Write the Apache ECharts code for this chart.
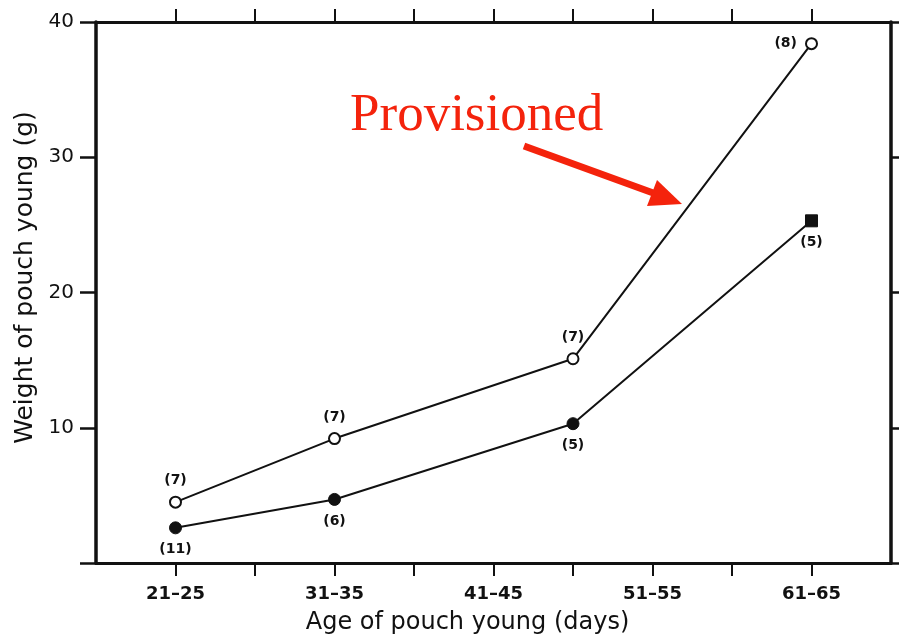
<!DOCTYPE html>
<html>
<head>
<meta charset="utf-8">
<script src="https://cdn.jsdelivr.net/npm/echarts@6/dist/echarts.min.js"></script>
<style>html,body{margin:0;padding:0;background:#fff}#c{width:899px;height:634px}</style>
</head>
<body>
<div id="c"></div>
<script>
// ---- data ----
var ageX = [23, 33, 48, 63];                     // age (days) of each sample group
var provisioned = [4.5, 9.2, 15.1, 38.4];        // open symbols
var provisionedN = ['(7)', '(7)', '(7)', '(8)'];
var unprovisioned = [2.6, 4.7, 10.3, 25.3];      // filled symbols
var unprovisionedN = ['(11)', '(6)', '(5)', '(5)'];
var tickAges = [23, 28, 33, 38, 43, 48, 53, 58, 63];
var labelAges = [23, 33, 43, 53, 63];
var labelTexts = ['21\u201325', '31\u201335', '41\u201345', '51\u201355', '61\u201365'];

var chart = echarts.init(document.getElementById('c'));
var font = 'DejaVu Sans';

function xAx(pos, showLabels) {
  var ax = {
    type: 'value', position: pos, min: 18, max: 68,
    axisLine: {show: true, onZero: false, lineStyle: {color: '#111', width: 3}},
    axisTick: {show: true, customValues: tickAges, length: 13, lineStyle: {color: '#111', width: 2}},
    axisLabel: {show: false},
    splitLine: {show: false}
  };
  if (showLabels) {
    ax.axisLabel = {show: true, customValues: labelAges, margin: 22,
      color: '#111', fontFamily: font, fontSize: 18, fontWeight: 'bold',
      formatter: function (v) { var i = labelAges.indexOf(v); return i >= 0 ? labelTexts[i] : ''; }};
  }
  return ax;
}
function yAx(pos, showLabels) {
  return {
    type: 'value', position: pos, min: 0, max: 40, interval: 10,
    axisLine: {show: true, onZero: false, lineStyle: {color: '#111', width: 3.5}},
    axisTick: {show: true, length: pos === 'left' ? 16 : 10, lineStyle: {color: '#111', width: 2.5}},
    axisLabel: {show: showLabels, margin: 22, color: '#111', fontFamily: font, fontSize: 20,
      formatter: function (v) { return v === 0 ? '' : String(v); }},
    splitLine: {show: false}
  };
}

var xb = xAx('bottom', true);
xb.name = 'Age of pouch young (days)';
xb.nameLocation = 'middle';
xb.nameGap = 48;
xb.nameTextStyle = {color: '#111', fontFamily: font, fontSize: 24, padding: [0, 52, 0, 0]};
var yl = yAx('left', true);
yl.name = 'Weight of pouch young (g)';
yl.nameLocation = 'middle';
yl.nameGap = 58;
yl.nameTextStyle = {color: '#111', fontFamily: font, fontSize: 25, padding: [0, 0, 0, 30]};

var provData = ageX.map(function (x, i) {
  return {value: [x, provisioned[i]], label: {formatter: provisionedN[i], position: i === ageX.length - 1 ? 'left' : 'top'}};
});
var unprovData = ageX.map(function (x, i) {
  var d = {value: [x, unprovisioned[i]], label: {formatter: unprovisionedN[i], position: 'bottom'}};
  if (i === ageX.length - 1) d.symbol = 'rect';
  return d;
});

var labelStyle = {show: true, color: '#111', fontFamily: font, fontSize: 14, fontWeight: 'bold', distance: 8};

chart.setOption({
  backgroundColor: '#fff',
  animation: false,
  grid: {left: 96, right: 8, top: 22, bottom: 71, containLabel: false, outerBoundsMode: 'none'},
  xAxis: [xb, xAx('top', false)],
  yAxis: [yl, yAx('right', false)],
  series: [
    {
      name: 'Provisioned', type: 'line', data: provData, xAxisIndex: 0, yAxisIndex: 0,
      symbol: 'circle', symbolSize: 11,
      lineStyle: {color: '#111', width: 2},
      itemStyle: {color: '#fff', borderColor: '#111', borderWidth: 2},
      label: labelStyle
    },
    {
      name: 'Unprovisioned', type: 'line', data: unprovData, xAxisIndex: 0, yAxisIndex: 0,
      symbol: 'circle', symbolSize: 12,
      lineStyle: {color: '#111', width: 2},
      itemStyle: {color: '#111', borderColor: '#111', borderWidth: 1},
      label: labelStyle
    },
    {
      type: 'line', data: [], xAxisIndex: 1, yAxisIndex: 1, silent: true
    }
  ],
  graphic: [
    {type: 'text', left: 350, top: 90, style: {text: 'Provisioned', fill: '#f4230c',
      font: '53px "Liberation Serif"'}},
    {type: 'line', shape: {x1: 524, y1: 146, x2: 656, y2: 194},
      style: {stroke: '#f4230c', lineWidth: 7}},
    {type: 'polygon', shape: {points: [[682, 204], [647, 206], [657, 180]]},
      style: {fill: '#f4230c'}}
  ]
});
</script>
</body>
</html>
